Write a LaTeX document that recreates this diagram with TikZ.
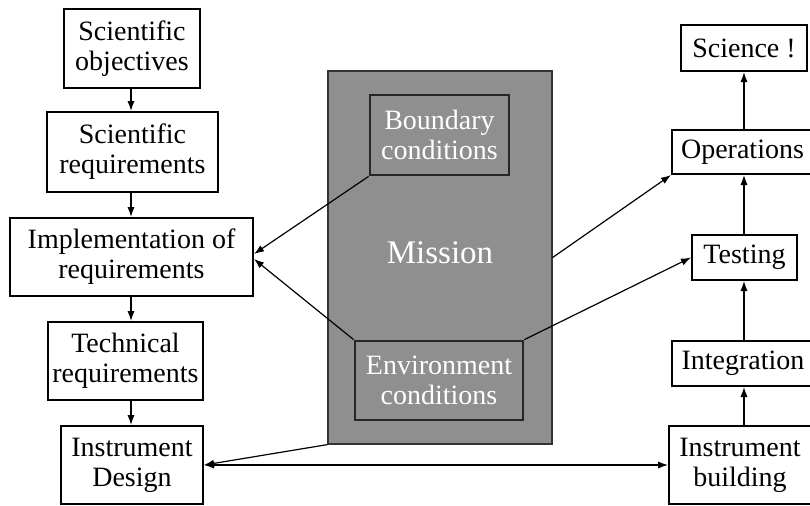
\documentclass[tikz,border=0pt]{standalone}
\usepackage{fontspec}
\setmainfont{Liberation Serif}
\usetikzlibrary{arrows.meta}
\definecolor{missiongray}{HTML}{8F8F8F}
\begin{document}
\begin{tikzpicture}[x=0.5pt,y=-0.5pt,
  box/.style={draw=black, line width=1pt, fill=white, align=center, inner sep=0pt,
    font=\fontsize{14}{15}\selectfont},
  inbox/.style={draw=black!85, line width=1.4pt, align=center, inner sep=0pt, text=white,
    font=\fontsize{14}{15}\selectfont},
  arr/.style={-{Latex[length=5pt,width=3.6pt]}, line width=0.6pt},
  link/.style={line width=0.6pt}]
\clip (0,0) rectangle (810,505);
\fill[white] (0,0) rectangle (810,505);
% left column
\node[box, minimum width=68pt, minimum height=39.5pt] (so) at (132,48.5) {Scientific\\objectives};
\node[box, minimum width=85.5pt, minimum height=40pt] (sr) at (132.5,152) {Scientific\\requirements};
\node[box, minimum width=121.5pt, minimum height=39pt] (impl) at (131.5,257) {Implementation of\\requirements};
\node[box, minimum width=77.5pt, minimum height=39pt] (tr) at (125.5,361) {Technical\\requirements};
\node[box, minimum width=71pt, minimum height=39pt] (design) at (132,465) {Instrument\\Design};
% mission
\node[draw=black!80, line width=0.6pt, fill=missiongray, minimum width=112pt, minimum height=186.5pt, inner sep=0pt] (mission) at (440,257.5) {};
\node[text=white, font=\fontsize{16.5}{18}\selectfont] (mtext) at (440,253) {Mission};
\node[inbox, minimum width=69.5pt, minimum height=40pt] (bound) at (439.5,135) {Boundary\\conditions};
\node[inbox, minimum width=84pt, minimum height=39.5pt] (env) at (439,380.5) {Environment\\conditions};
% right column
\node[box, minimum width=63pt, minimum height=23pt] (sci) at (744,48) {Science !};
\node[box, minimum width=70.5pt, minimum height=22pt] (ops) at (742.5,152) {Operations};
\node[box, minimum width=52.5pt, minimum height=22.5pt] (test) at (744.5,257.5) {Testing};
\node[box, minimum width=71pt, minimum height=22.5pt] (integ) at (743,363.5) {Integration};
\node[box, minimum width=71pt, minimum height=39pt] (build) at (740,465) {Instrument\\building};
% left chain
\draw[arr] (so.south -| 131,0) -- (sr.north -| 131,0);
\draw[arr] (sr.south -| 131,0) -- (impl.north -| 131,0);
\draw[arr] (impl.south -| 131,0) -- (tr.north -| 131,0);
\draw[arr] (tr.south -| 131,0) -- (design.north -| 131,0);
% right chain
\draw[arr] (build.north -| 744,0) -- (integ.south -| 744,0);
\draw[arr] (integ.north -| 744,0) -- (test.south -| 744,0);
\draw[arr] (test.north -| 744,0) -- (ops.south -| 744,0);
\draw[arr] (ops.north -| 744,0) -- (sci.south -| 744,0);
% cross links
\draw[arr] (bound.south west) -- ([yshift=1.5pt]impl.east);
\draw[arr] (env.north west) -- ([yshift=-1pt]impl.east);
\draw[arr] (mission.east) -- (ops.south west);
\draw[arr] (env.north east) -- (test.west);
\draw[arr] (mission.south west) -- (design.east);
\draw[{Latex[length=5pt,width=3.6pt]}-{Latex[length=5pt,width=3.6pt]}, line width=0.6pt] (design.east) -- (build.west);
\end{tikzpicture}
\end{document}
